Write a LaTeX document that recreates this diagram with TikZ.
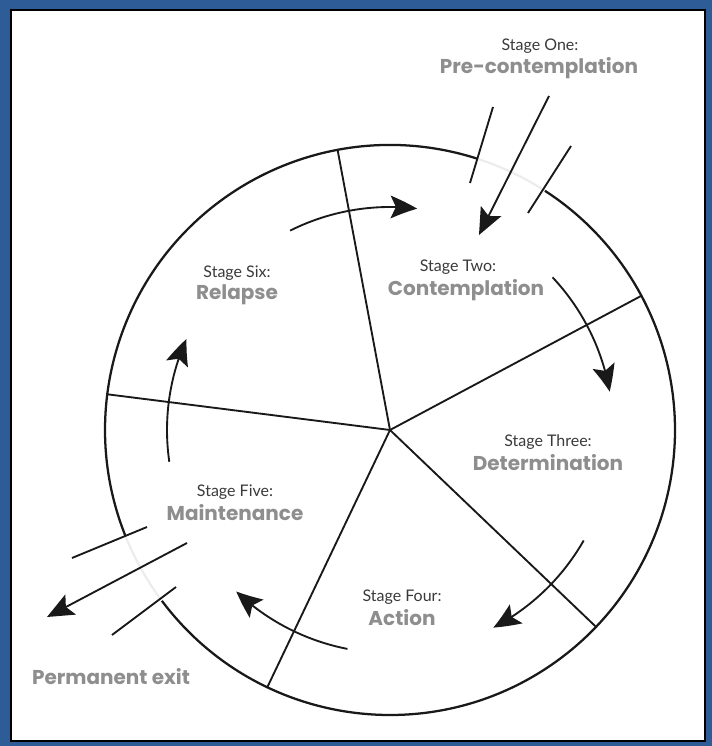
\documentclass[tikz,border=0pt]{standalone}
\usepackage{fontspec}
\setmainfont{Lato}
\newfontfamily\bigf{Poppins}
\usetikzlibrary{arrows.meta,bending}
\definecolor{frameblue}{HTML}{2E5C97}
\definecolor{smalltxt}{HTML}{3A3A3A}
\definecolor{bigtxt}{HTML}{8E8E8E}
\begin{document}
\begin{tikzpicture}[x=0.75pt,y=0.75pt,
  line/.style={line width=1.4pt, black!90},
  rim/.style={line width=1.7pt, black!90},
  cyc/.style={line, -{Stealth[length=20pt,width=17pt,inset=4pt,bend]}},
  exitarr/.style={line, -{Stealth[length=20pt,width=17pt,inset=4pt]}},
  small/.style={font=\fontsize{12}{14}\selectfont, text=smalltxt, inner sep=0pt},
  big/.style={font=\bigf\bfseries\fontsize{15}{18}\selectfont, text=bigtxt, inner sep=0pt}]
\fill[frameblue] (0,0) rectangle (712,746);
\useasboundingbox (0,0) rectangle (712,746);
\draw[fill=white, line width=0.8pt] (11,5) rectangle (705,736);
\coordinate (C) at (390,316);
% rim with two gaps
\draw[rim] ([shift={(72.1:285)}]C) arc[start angle=72.1, end angle=201.8, radius=285];
\draw[rim] ([shift={(216.8:285)}]C) arc[start angle=216.8, end angle=417.1, radius=285];
\draw[gray!15, line width=1.6pt] ([shift={(57.1:285)}]C) arc[start angle=57.1, end angle=72.1, radius=285];
\draw[gray!15, line width=1.6pt] ([shift={(201.8:285)}]C) arc[start angle=201.8, end angle=216.8, radius=285];
% spokes
\foreach \a in {100.6,28.1,-43.7,-115.5,172.8}
  \draw[line] (C) -- ([shift={(\a:285)}]C);
% cycle arrows
\draw[cyc] ([shift={(116.6:223)}]C) arc[start angle=116.6, end angle=83, radius=223];
\draw[cyc] ([shift={(43.2:223)}]C) arc[start angle=43.2, end angle=9.9, radius=223];
\draw[cyc] ([shift={(-29.7:223)}]C) arc[start angle=-29.7, end angle=-62.4, radius=223];
\draw[cyc] ([shift={(-101:223)}]C) arc[start angle=-101, end angle=-133.6, radius=223];
\draw[cyc] ([shift={(188.2:223)}]C) arc[start angle=188.2, end angle=155.9, radius=223];
% entry (top)
\coordinate (inA) at (549,650); \coordinate (inB) at (479,511);
\coordinate (tl1) at (493,639); \coordinate (tl2) at (470,563);
\coordinate (tr1) at (571,600); \coordinate (tr2) at (528,533);
\draw[exitarr] (inA) -- (inB);
\draw[line] (tl1) -- (tl2);
\draw[line] (tr1) -- (tr2);
% exit (bottom left)
\coordinate (exA) at (187,203); \coordinate (exB) at (47,129);
\coordinate (bl1) at (147,219); \coordinate (bl2) at (72,188);
\coordinate (br1) at (176,159); \coordinate (br2) at (112,111);
\draw[exitarr] (exA) -- (exB);
\draw[line] (bl1) -- (bl2);
\draw[line] (br1) -- (br2);
% labels
\node[small] (s1a) at (540,700) {Stage One:};
\node[big]   (s1b) at (539,678) {Pre-contemplation};
\node[small] (s2a) at (458,479) {Stage Two:};
\node[big]   (s2b) at (466,456) {Contemplation};
\node[small] (s3a) at (548,304) {Stage Three:};
\node[big]   (s3b) at (548,283) {Determination};
\node[small] (s4a) at (402,149) {Stage Four:};
\node[big]   (s4b) at (402,128) {Action};
\node[small] (s5a) at (235,254) {Stage Five:};
\node[big]   (s5b) at (235,233) {Maintenance};
\node[small] (s6a) at (237,473) {Stage Six:};
\node[big]   (s6b) at (237,451) {Relapse};
\node[big]   (ex)  at (111,69)  {Permanent exit};
\end{tikzpicture}
\end{document}
